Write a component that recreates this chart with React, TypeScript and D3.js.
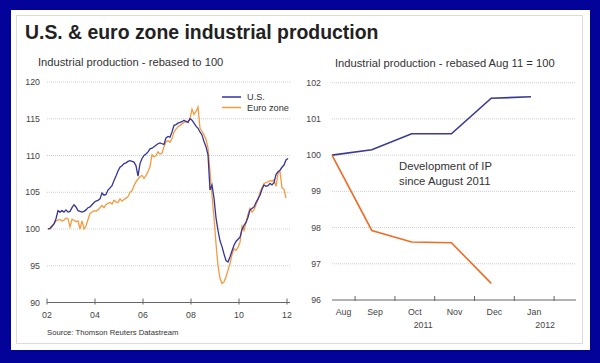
import React from "react";
import * as d3 from "d3";

// left panel: monthly industrial production, Jan 2002 = 100
const usMonthly = [
  100.0, 100.1, 100.4, 100.7, 101.4, 102.5, 102.3, 102.5, 102.3, 102.6, 102.3, 102.4,
  102.9, 103.3, 103.0, 102.5, 102.4, 102.3, 102.4, 102.6, 102.9, 103.0, 103.3, 103.6,
  103.8, 103.9, 104.1, 104.9, 104.6, 104.7, 105.3, 105.6, 105.9, 106.6, 107.2, 107.9,
  108.4, 108.6, 108.9, 109.0, 109.2, 109.3, 109.2, 109.1, 108.6, 107.2, 108.9, 109.6,
  110.0, 110.2, 110.5, 110.9, 111.0, 111.2, 111.4, 111.6, 111.7, 111.6, 111.5, 112.4,
  112.6, 112.5, 113.2, 114.1, 114.2, 114.4, 114.5, 114.6, 114.8, 114.6, 114.5, 115.0,
  114.8, 114.4, 114.0, 113.7, 113.2, 112.8, 111.9, 111.2, 110.1, 105.3, 106.0, 104.2,
  101.5, 99.8, 98.4, 97.6, 96.6, 95.7, 95.5, 96.2, 97.0, 97.8, 98.3, 98.6,
  98.9, 99.9, 100.5, 100.9, 101.6, 102.6, 102.8, 103.0, 103.6, 104.1, 104.6, 105.4,
  106.0, 105.8, 105.9, 106.2, 106.0, 106.3, 107.4, 107.8, 108.0, 108.4, 108.7, 109.4,
  109.6,
];

const euroMonthly = [
  100.0, 100.0, 100.3, 100.7, 101.1, 101.2, 101.3, 101.1, 101.2, 101.5, 101.4, 100.3,
  101.3, 101.2, 101.0, 101.1, 100.0, 101.1, 100.0, 100.4, 101.3, 102.1, 102.3, 102.5,
  102.4, 102.6, 102.9, 103.2, 102.9, 103.3, 103.5, 103.6, 103.4, 103.9, 103.7, 103.6,
  104.1, 103.8, 104.0, 104.2, 104.4, 105.0, 105.2, 105.9, 106.4, 106.8, 107.1, 107.3,
  106.9, 107.3, 107.8, 108.5, 110.1, 109.8, 110.0, 110.5, 110.2, 110.3, 111.2, 111.9,
  112.0, 111.8, 112.3, 113.2, 113.6, 113.9, 114.1, 114.3, 114.5, 114.7, 114.6, 115.0,
  116.3, 115.6, 116.0, 116.6, 113.7, 113.3, 112.8, 112.2, 111.0, 107.8, 104.6, 101.5,
  98.0, 95.0, 93.3, 92.6, 92.8, 93.5, 94.4, 95.3, 96.5, 97.3, 97.1, 97.5,
  98.2, 100.4, 99.8, 100.9, 102.0, 102.8, 102.3, 102.6, 103.3, 104.0, 105.0, 105.6,
  106.2, 106.3, 106.4, 106.6, 106.5, 106.7, 105.8, 107.6, 107.8, 105.6, 105.4, 104.2,
];

const firstYear = 2002;
const yearTicks = [2002, 2004, 2006, 2008, 2010, 2012];
const leftYTicks = [90, 95, 100, 105, 110, 115, 120];

// right panel: rebased Aug 2011 = 100
const recentMonths = ["Aug", "Sep", "Oct", "Nov", "Dec", "Jan"];
const recentYears = ["2011", "2012"];
const usRecent = [100, 100.15, 100.59, 100.59, 101.57, 101.61];
const euroRecent = [100, 97.92, 97.6, 97.58, 96.46];
const rightYTicks = [96, 97, 98, 99, 100, 101, 102];

const FONT = "'Liberation Sans', Arial, Helvetica, sans-serif";
const US_LEFT = "#34349a";
const EURO_LEFT = "#f59a3e";
const US_RIGHT = "#3a3a96";
const EURO_RIGHT = "#f06c24";

export default function App() {
  const width = 600;
  const height = 363;

  // left chart scales
  const xL = d3.scaleLinear().domain([2002, 2012.125]).range([47, 290]);
  const yL = d3.scaleLinear().domain([90, 120]).range([302.5, 82]);
  const monthX = (i: number) => xL(firstYear + (i + 0.5) / 12);
  const lineL = d3.line<number>()
    .x((d, i) => monthX(i))
    .y((d) => yL(d));

  // right chart scales (month index since Aug 2011)
  const xR = d3.scaleLinear().domain([0, 6.13]).range([332, 576]);
  const yR = d3.scaleLinear().domain([96, 102]).range([300, 82.7]);
  const lineR = d3.line<number>()
    .x((d, i) => xR(i))
    .y((d) => yR(d));
  const tickOffset = 0.58;
  const monthTicks = recentMonths.map((m, i) => i + tickOffset);
  const [x0, x1] = xR.domain();
  const bounds = [x0, ...monthTicks.slice(0, -1)];

  return (
    <svg
      width={width}
      height={height}
      style={{ position: "absolute", left: 0, top: 0, fontFamily: FONT }}
    >
      <rect x={0} y={0} width={width} height={height} fill="#03039a" />
      <rect x={11} y={10} width={579} height={340} fill="#ffffff" />
      <rect x={16.5} y={15.5} width={566} height={328} fill="#ffffff" stroke="#dcdcdc" />

      <text x={25} y={39} fontSize={19.4} fontWeight="bold" fill="#222">
        U.S. &amp; euro zone industrial production
      </text>

      {/* left chart */}
      <text x={38} y={66} fontSize={11.2} fill="#333">
        Industrial production - rebased to 100
      </text>
      {leftYTicks.map((t) => (
        <g key={t}>
          {t !== 90 && (
            <line x1={47} x2={290} y1={yL(t)} y2={yL(t)} stroke="#cfcfcf" strokeDasharray="1,1" />
          )}
          <text x={40} y={yL(t) + 3} fontSize={8.8} fill="#444" textAnchor="end">
            {t}
          </text>
        </g>
      ))}
      <line x1={47} x2={290} y1={yL(90)} y2={yL(90)} stroke="#666" />
      {yearTicks.map((t) => (
        <g key={t}>
          <line x1={xL(t)} x2={xL(t)} y1={yL(90) - 4} y2={yL(90) + 2} stroke="#666" />
          <text x={xL(t)} y={yL(90) + 15} fontSize={8.8} fill="#444" textAnchor="middle">
            {String(t).slice(2)}
          </text>
        </g>
      ))}
      <path d={lineL(euroMonthly) || ""} fill="none" stroke={EURO_LEFT} strokeWidth={1.3} />
      <path d={lineL(usMonthly) || ""} fill="none" stroke={US_LEFT} strokeWidth={1.3} />

      <line x1={222} x2={241} y1={97} y2={97} stroke={US_LEFT} strokeWidth={1.5} />
      <text x={247} y={100} fontSize={9.2} fill="#333">U.S.</text>
      <line x1={222} x2={241} y1={107.5} y2={107.5} stroke={EURO_LEFT} strokeWidth={1.5} />
      <text x={247} y={110.5} fontSize={9.2} fill="#333">Euro zone</text>

      <text x={47} y={335} fontSize={7.7} fill="#333">
        Source: Thomson Reuters Datastream
      </text>

      {/* right chart */}
      <text x={335} y={67} fontSize={11.2} fill="#333">
        Industrial production - rebased Aug 11 = 100
      </text>
      {rightYTicks.map((t) => (
        <g key={t}>
          {t !== 96 && (
            <line x1={332} x2={576} y1={yR(t)} y2={yR(t)} stroke="#cfcfcf" strokeDasharray="1,1" />
          )}
          <text x={321} y={yR(t) + 3} fontSize={8.8} fill="#444" textAnchor="end">
            {t}
          </text>
        </g>
      ))}
      <line x1={xR(x0)} x2={xR(x1)} y1={yR(96)} y2={yR(96)} stroke="#666" />
      {monthTicks.map((t) => (
        <line key={t} x1={xR(t)} x2={xR(t)} y1={yR(96) - 4} y2={yR(96) + 1} stroke="#666" />
      ))}
      {recentMonths.map((m, i) => (
        <text
          key={m}
          x={(xR(bounds[i]) + xR(monthTicks[i])) / 2}
          y={yR(96) + 15}
          fontSize={8.8}
          fill="#444"
          textAnchor="middle"
        >
          {m}
        </text>
      ))}
      <text x={(xR(x0) + xR(monthTicks[4])) / 2} y={yR(96) + 28} fontSize={8.8} fill="#444" textAnchor="middle">
        {recentYears[0]}
      </text>
      <text x={(xR(monthTicks[4]) + xR(x1)) / 2} y={yR(96) + 28} fontSize={8.8} fill="#444" textAnchor="middle">
        {recentYears[1]}
      </text>

      <path d={lineR(usRecent) || ""} fill="none" stroke={US_RIGHT} strokeWidth={1.6} />
      <path d={lineR(euroRecent) || ""} fill="none" stroke={EURO_RIGHT} strokeWidth={1.6} />

      <text x={399} y={170} fontSize={11.3} fill="#333">Development of IP</text>
      <text x={399} y={184.5} fontSize={11.3} fill="#333">since August 2011</text>
    </svg>
  );
}
